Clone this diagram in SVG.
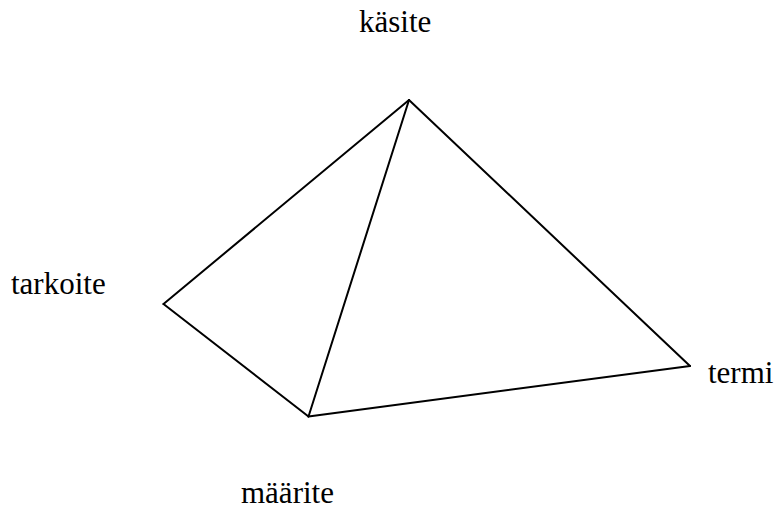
<svg xmlns="http://www.w3.org/2000/svg" width="777" height="509" viewBox="0 0 777 509">
<style>
.edge{stroke:#000;stroke-width:2;fill:none;stroke-linecap:round}
</style>
<rect width="777" height="509" fill="#fff"/>
<g id="connectors">
<line class="edge" x1="409" y1="100" x2="163.5" y2="304"/>
<line class="edge" x1="409" y1="100" x2="308.5" y2="416.5"/>
<line class="edge" x1="409" y1="100" x2="690" y2="366"/>
<line class="edge" x1="163.5" y1="304" x2="308.5" y2="416.5"/>
<line class="edge" x1="308.5" y1="416.5" x2="690" y2="366"/>
</g>
<g font-family="Liberation Serif, DejaVu Serif, serif" font-size="31" fill="#000">
<g id="kasite"><text x="359" y="32">käsite</text></g>
<g id="tarkoite"><text x="11" y="294">tarkoite</text></g>
<g id="maarite"><text x="241" y="503">määrite</text></g>
<g id="termi"><text x="708" y="383">termi</text></g>
</g>
</svg>
